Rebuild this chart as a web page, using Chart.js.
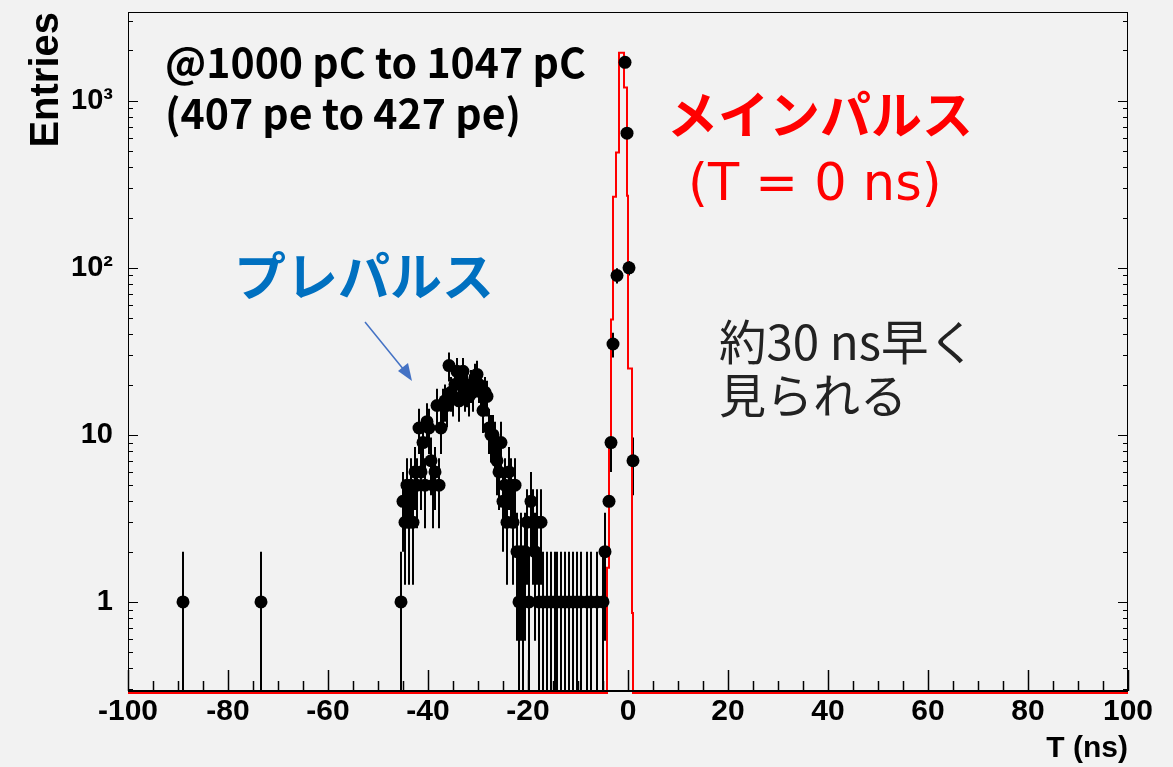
<!DOCTYPE html>
<html><head><meta charset="utf-8">
<script src="https://cdn.jsdelivr.net/npm/chart.js@4.4.1/dist/chart.umd.min.js"></script>
<style>
html,body{margin:0;padding:0;background:#f2f2f2;}
#wrap{position:relative;width:1173px;height:767px;overflow:hidden;background:#f2f2f2;}
#c{position:absolute;left:0;top:0;}
.ann{position:absolute;white-space:nowrap;line-height:1;font-family:"Noto Sans CJK JP",sans-serif;}
svg{position:absolute;left:0;top:0;}
</style></head><body>
<div id="wrap">
<canvas id="c" width="1173" height="767"></canvas>
<div class="ann" style="left:165px;top:40px;font-size:41px;font-weight:700;color:#000">@1000 pC to 1047 pC</div>
<div class="ann" style="left:165px;top:91px;font-size:41px;font-weight:700;color:#000">(407 pe to 427 pe)</div>
<div class="ann" style="left:667px;top:87px;font-size:51px;font-weight:700;color:#ff0000">メインパルス</div>
<div class="ann" style="left:688px;top:157px;font-size:51px;font-weight:400;color:#ff0000;font-family:'DejaVu Sans','Noto Sans CJK JP',sans-serif">(T = 0 ns)</div>
<div class="ann" style="left:234px;top:248px;font-size:52px;font-weight:700;color:#0070c0">プレパルス</div>
<div class="ann" style="left:719px;top:316px;font-size:47.5px;font-weight:400;color:#222">約30 ns早く</div>
<div class="ann" style="left:719px;top:369px;font-size:47px;font-weight:400;color:#222">見られる</div>
<svg width="1173" height="767">
  <line x1="365" y1="322" x2="404" y2="370" stroke="#4472c4" stroke-width="1.5"/>
  <polygon points="412,381 398,371 408,363" fill="#4472c4"/>
</svg>
</div>
<script>
// ---- data ----
const preT = [-89.0,-73.4,-45.4,-45.0,-44.6,-44.2,-43.8,-43.4,-43.0,-42.6,
  -42.2,-41.8,-41.4,-41.0,-40.6,-40.2,-39.8,-39.4,-39.0,-38.6,
  -38.2,-37.8,-37.4,-37.0,-36.6,-36.2,-35.8,-35.4,-35.0,-34.6,
  -34.2,-33.8,-33.4,-33.0,-32.6,-32.2,-31.8,-31.4,-31.0,-30.6,
  -30.2,-29.8,-29.4,-29.0,-28.6,-28.2,-27.8,-27.4,-27.0,-26.6,
  -26.2,-25.8,-25.4,-25.0,-24.6,-24.2,-23.8,-23.4,-23.0,-22.6,
  -22.2,-21.8,-21.4,-21.0,-20.6,-20.2,-19.8,-19.4,-19.0,-18.6,
  -18.2,-17.8,-17.4,-17.0,-16.2,-15.4,-14.6,-14.2,-13.4,-12.6,
  -11.8,-11.0,-10.2,-9.4,-8.2,-7.4,-6.2,-5.0,-4.6,-3.8,
  -3.4,-3.0,-2.2,-0.6,-0.2,0.2,1.0];
const preN = [1,1,1,4,3,5,3,5,3,6,
  5,11,6,9,5,12,11,7,5,6,
  15,5,11,15,16,15,26,18,17,20,
  24,16,21,24,18,19,17,20,18,22,
  23,20,18,14,18,17,11,10,10,9,
  7,6,9,4,5,3,6,5,3,5,
  2,1,2,1,2,3,1,4,3,2,
  3,1,3,1,1,1,1,1,1,1,
  1,1,1,1,1,1,1,1,2,4,
  9,35,90,1700,640,100,7];
const redEdge = [-100,-4.2,-3.8,-3.4,-3.0,-2.4,-1.8,-0.8,-0.2,0.0,0.8,1.0,100];
const redVal  = [0,1.6,9,49,266,490,1940,1200,270,25,0.86,0,0];
const xTickValues = [-100,-80,-60,-40,-20,0,20,40,60,80,100];
const yTickValues = [1,10,100,1000];
const yTickText = ['1','10','10²','10³'];
const yMin = 0.293, yMax = 3400;
const redFloor = 0.285; // empty red bins drawn just under the axis line

// ---- plugins ----
const errorBars = {
  id:'errorBars',
  beforeDatasetsDraw(chart){
    const {ctx, chartArea:a, scales:{x,y}} = chart;
    ctx.save();
    ctx.beginPath(); ctx.rect(a.left,a.top,a.right-a.left,a.bottom-a.top); ctx.clip();
    ctx.strokeStyle='#000'; ctx.lineWidth=2;
    preT.forEach((t,i)=>{
      const n=preN[i], e=Math.sqrt(n);
      const px=Math.round(x.getPixelForValue(t));
      const lo=n-e;
      const yl = lo>y.min ? y.getPixelForValue(lo) : a.bottom;
      const yh = y.getPixelForValue(n+e);
      ctx.beginPath(); ctx.moveTo(px,yl); ctx.lineTo(px,yh); ctx.stroke();
    });
    ctx.restore();
  }
};
const frame = {
  id:'frame',
  afterDraw(chart){
    const {ctx, chartArea:a, scales:{x,y}} = chart;
    ctx.save();
    ctx.strokeStyle='#000';
    ctx.lineWidth=1;
    ctx.strokeRect(a.left+0.5,a.top+0.5,a.right-a.left-1,a.bottom-a.top);
    ctx.lineWidth=2;
    ctx.beginPath(); ctx.moveTo(a.left,a.bottom); ctx.lineTo(a.right,a.bottom); ctx.stroke();
    // x ticks
    ctx.lineWidth=1.5;
    for(let v=x.min; v<=x.max+1e-9; v+=5){
      const px=Math.round(x.getPixelForValue(v))+0.5;
      const len = (Math.abs(v%20)<1e-9)?21:10;
      ctx.beginPath(); ctx.moveTo(px,a.bottom); ctx.lineTo(px,a.bottom-len); ctx.stroke();
    }
    // y ticks left and right
    ctx.lineWidth=1;
    y.ticks.forEach(t=>{
      const v=t.value;
      const py=Math.round(y.getPixelForValue(v))+0.5;
      const major = yTickValues.includes(v);
      const len = major?10:5;
      ctx.beginPath(); ctx.moveTo(a.left,py); ctx.lineTo(a.left+len,py); ctx.stroke();
      ctx.beginPath(); ctx.moveTo(a.right,py); ctx.lineTo(a.right-len,py); ctx.stroke();
    });
    ctx.restore();
  }
};

const scatterData = preT.map((t,i)=>({x:t,y:preN[i]}));
const redData = redEdge.map((t,i)=>({x:t,y:redVal[i]>0?redVal[i]:redFloor}));

new Chart(document.getElementById('c'),{
  data:{
    datasets:[
      {type:'scatter', data:scatterData, pointRadius:6.5, pointHoverRadius:6.5,
       backgroundColor:'#000', borderWidth:0, order:0},
      {type:'line', data:redData, stepped:true, borderColor:'#ff0000', borderWidth:2,
       pointRadius:0, fill:false, order:1, clip:4}
    ]
  },
  options:{
    responsive:false, animation:false, devicePixelRatio:1,
    layout:{padding:{left:0,right:45,top:12,bottom:0}},
    plugins:{legend:{display:false}, tooltip:{enabled:false}},
    scales:{
      x:{type:'linear', min:-100, max:100,
        grid:{display:false, drawTicks:false}, border:{display:false},
        afterFit:s=>{s.height=76; s.paddingLeft=0; s.paddingRight=0;},
        afterBuildTicks:s=>{s.ticks=xTickValues.map(v=>({value:v}));},
        ticks:{autoSkip:false, maxRotation:0, padding:3, color:'#000',
          font:{family:"'Liberation Sans', Arial, sans-serif", size:30, weight:'bold'},
          callback:v=>String(v)},
        title:{display:true, text:'T (ns)', align:'end', color:'#000', padding:{top:0,bottom:0},
          font:{family:"'Liberation Sans', Arial, sans-serif", size:30, weight:'bold'}}
      },
      y:{type:'logarithmic', min:yMin, max:yMax,
        grid:{display:false, drawTicks:false}, border:{display:false},
        afterFit:s=>{s.width=128; s.paddingTop=0; s.paddingBottom=0;},
        afterBuildTicks:s=>{
          const arr=[];
          for(let d=-1; d<=3; d++){
            for(let m=1; m<=9; m++){
              const v=+(m*Math.pow(10,d)).toPrecision(3);
              if(v>=yMin && v<=yMax) arr.push({value:v});
            }
          }
          s.ticks=arr;
        },
        ticks:{autoSkip:false, padding:15, color:'#000',
          font:{family:"'Liberation Sans', Arial, sans-serif", size:29, weight:'bold'},
          callback:v=>{const k=yTickValues.indexOf(v); return k>=0?yTickText[k]:'';}},
        title:{display:true, text:'Entries', align:'end', color:'#000', padding:{top:23,bottom:0},
          font:{family:"'Liberation Sans', Arial, sans-serif", size:40, weight:'bold'}}
      }
    }
  },
  plugins:[errorBars, frame]
});
</script>
</body></html>
